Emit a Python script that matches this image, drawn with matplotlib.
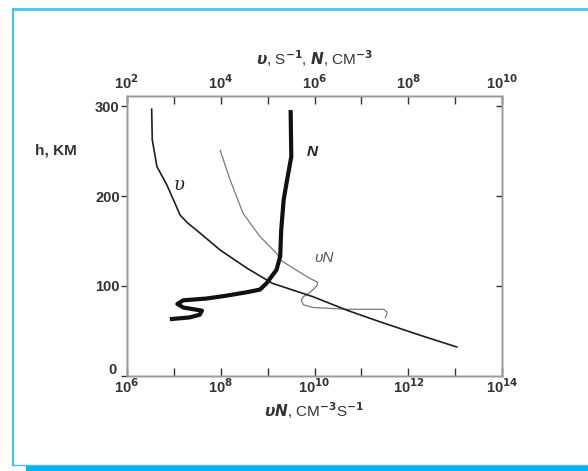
import matplotlib
matplotlib.use('Agg')
import matplotlib.pyplot as plt
from matplotlib.lines import Line2D
from matplotlib.patches import Rectangle
from matplotlib.transforms import ScaledTranslation

# collision frequency v, s^-1 (top axis)
v_h = [297, 263, 233, 213, 192, 179, 170, 162, 140, 120, 103, 88, 73, 60, 45, 32]
v_val = [3.4e2, 3.5e2, 4.4e2, 7.1e2, 1.07e3, 1.37e3, 2.0e3, 3.1e3, 9.8e3, 3.6e4,
         1.26e5, 9.3e5, 4.9e6, 2.5e7, 1.8e8, 1.07e9]

# electron density N, cm^-3 (top axis)
n_h = [296, 244, 218, 196, 162, 133, 118, 103, 96, 93, 89, 86, 84, 80,
       76, 72.5, 68, 65, 63]
n_val = [3.1e5, 3.2e5, 2.6e5, 2.2e5, 1.95e5, 1.86e5, 1.55e5, 9.5e4, 6.9e4,
         3.6e4, 1.26e4, 5.0e3, 1.6e3, 1.2e3, 1.6e3, 4.0e3, 3.6e3, 2.2e3, 8.3e2]

# product vN, cm^-3 s^-1 (bottom axis)
vn_h = [251, 218, 181, 155, 136.5, 129, 118, 110, 104, 100, 95, 92, 88, 84,
        79, 76, 74, 74, 71, 67, 64.7]
vn_val = [9.8e7, 1.6e8, 3.0e8, 6.9e8, 1.55e9, 1.86e9, 4.0e9, 7.1e9, 1.17e10,
          1.12e10, 8.9e9, 7.6e9, 5.8e9, 5.2e9, 5.8e9, 9.3e9, 4.9e10, 2.95e11,
          3.5e11, 3.4e11, 3.2e11]

bottom_exp = [6, 7, 8, 9, 10, 11, 12, 13, 14]
top_exp = [2, 3, 4, 5, 6, 7, 8, 9, 10]
h_ticks = [0, 100, 200, 300]

plt.rcParams['font.family'] = ['Liberation Sans Narrow', 'Liberation Sans', 'DejaVu Sans']
plt.rcParams['font.weight'] = 'bold'
plt.rcParams['mathtext.fontset'] = 'custom'
plt.rcParams['mathtext.rm'] = 'Liberation Sans Narrow:bold'
plt.rcParams['mathtext.it'] = 'Liberation Sans Narrow:italic:bold'
plt.rcParams['mathtext.bf'] = 'Liberation Sans Narrow:bold'
plt.rcParams['mathtext.default'] = 'rm'

txt = '#333333'
spine = '#9a9a9a'


def exp_label(e, step):
    if (e - step) % 2 == 0:
        return '10$^{%d}$' % e
    return ''


def main():
    fig = plt.figure(figsize=(5.88, 4.71), dpi=100)
    ax = fig.add_axes([0.2155, 0.2023, 0.6388, 0.5945])

    # vN on bottom log axis
    ax.plot(vn_val, vn_h, color='#7a7a7a', lw=0.9)
    ax.set_xscale('log')
    ax.set_xlim(1e6, 1e14)
    ax.set_ylim(0, 312)
    ax.set_xticks([10.0 ** e for e in bottom_exp])
    ax.set_xticklabels([exp_label(e, 6) for e in bottom_exp])
    ax.xaxis.set_minor_locator(plt.NullLocator())
    ax.tick_params(axis='x', direction='in', length=6, width=1, pad=1,
                   labelsize=10.5, colors=txt)
    ax.set_yticks(h_ticks)
    ax.set_yticklabels([str(t) for t in h_ticks])
    ax.tick_params(axis='y', direction='out', length=4, width=1, pad=1,
                   labelsize=10.5, colors=txt)
    # lift the "0" so it clears the first x label
    zero = ax.get_yticklabels()[0]
    zero.set_transform(zero.get_transform() +
                       ScaledTranslation(-2 / 72, 5 / 72, fig.dpi_scale_trans))
    ax.set_xlabel(r'$\mathit{\upsilon N}$, CM$^{-3}$S$^{-1}$', fontsize=11,
                  color=txt, labelpad=3)

    # v and N on top log axis
    ax2 = ax.twiny()
    ax2.plot(v_val, v_h, color='#1e1e1e', lw=1.2)
    ax2.plot(n_val, n_h, color='#111111', lw=3, solid_capstyle='butt')
    ax2.set_xscale('log')
    ax2.set_xlim(1e2, 1e10)
    ax2.set_xticks([10.0 ** e for e in top_exp])
    ax2.set_xticklabels([exp_label(e, 2) for e in top_exp])
    ax2.xaxis.set_minor_locator(plt.NullLocator())
    ax2.tick_params(axis='x', direction='in', length=6, width=1, pad=3,
                    labelsize=10.5, colors=txt)
    ax2.set_xlabel(r'$\mathit{\upsilon}$, S$^{-1}$, $\mathit{N}$, CM$^{-3}$',
                   fontsize=11, color=txt, labelpad=6)

    # right side inward ticks
    ax3 = ax.twinx()
    ax3.set_ylim(0, 312)
    ax3.set_yticks(h_ticks[1:])
    ax3.tick_params(axis='y', direction='in', length=4, width=1,
                    labelright=False, colors=txt)

    for a in (ax, ax2, ax3):
        for s in a.spines.values():
            s.set_color(spine)
            s.set_linewidth(1)

    ax.text(0.125, 0.665, '\u03c5', transform=ax.transAxes, fontsize=13,
            color='#222222', family='DejaVu Serif', style='italic',
            weight='normal')
    ax.text(0.478, 0.785, 'N', transform=ax.transAxes, fontsize=11,
            style='italic', color='#222222')
    ax.text(0.50, 0.405, '\u03c5N', transform=ax.transAxes, fontsize=11,
            style='italic', color='#555555', weight='normal')

    fig.text(0.06, 0.68, 'h, KM', fontsize=11, color=txt, va='center')

    # blue frame
    fig.add_artist(Line2D([0.0213, 0.0213], [0.0138, 0.98], color='#45c0f2',
                          lw=1.5, transform=fig.transFigure))
    fig.add_artist(Line2D([0.0213, 1.0], [0.98, 0.98], color='#45c0f2',
                          lw=2, transform=fig.transFigure))
    fig.add_artist(Line2D([0.0213, 1.0], [0.0138, 0.0138], color='#45c0f2',
                          lw=1, transform=fig.transFigure))
    fig.add_artist(Rectangle((0.044, 0.0), 0.956, 0.0113, color='#00b0f0',
                             transform=fig.transFigure, lw=0))

    fig.savefig('out.png', dpi=100)


if __name__ == '__main__':
    main()
